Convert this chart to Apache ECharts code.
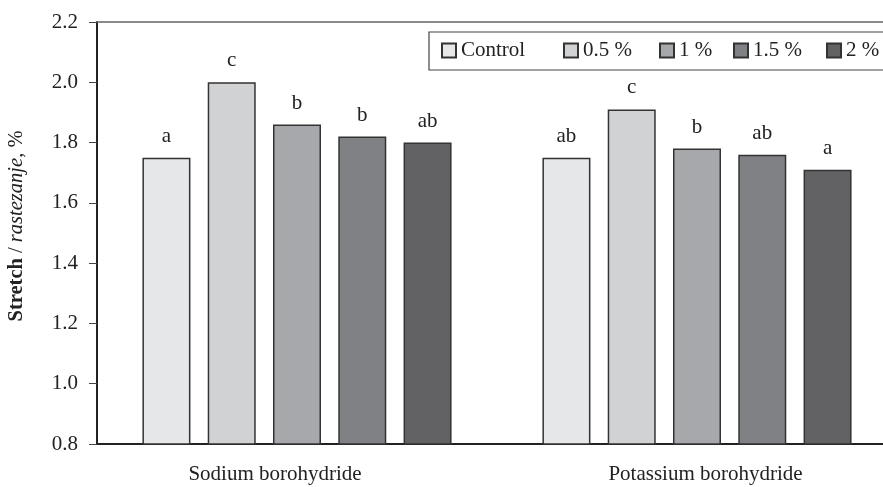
<!DOCTYPE html>
<html><head><meta charset="utf-8">
<script src="https://cdn.jsdelivr.net/npm/echarts@6/dist/echarts.min.js"></script>
<style>html,body{margin:0;padding:0;background:#fff;overflow:hidden}#c{width:897px;height:487px}</style>
</head><body><div id="c"></div>
<script>
const categories = ['Sodium borohydride', 'Potassium borohydride'];
const seriesNames = ['Control', '0.5 %', '1 %', '1.5 %', '2 %'];
const control = [1.75, 1.75];
const p05 = [2.00, 1.91];
const p1 = [1.86, 1.78];
const p15 = [1.82, 1.76];
const p2 = [1.80, 1.71];
const letters_control = ['a', 'ab'];
const letters_p05 = ['c', 'c'];
const letters_p1 = ['b', 'b'];
const letters_p15 = ['b', 'ab'];
const letters_p2 = ['ab', 'a'];
const yTicks = [0.8, 1.0, 1.2, 1.4, 1.6, 1.8, 2.0, 2.2];

const colors = ['#e6e7e8', '#d1d2d4', '#a7a8ab', '#808184', '#626264'];
const values = [control, p05, p1, p15, p2];
const letters = [letters_control, letters_p05, letters_p1, letters_p15, letters_p2];
const legendLefts = [441, 563, 659, 733, 826];
const font = 'Liberation Serif';

const chart = echarts.init(document.getElementById('c'));
chart.setOption({
  animation: false,
  textStyle: {fontFamily: font},
  grid: {left: 97, right: 0, top: 22, bottom: 43},
  legend: seriesNames.map((n, i) => ({
    left: legendLefts[i], top: 40, padding: 0,
    itemWidth: 14, itemHeight: 14, itemGap: 0,
    textStyle: {fontFamily: font, fontSize: 21, color: '#222'},
    data: [{name: n, icon: 'rect'}]
  })),
  xAxis: [{
    type: 'category', data: categories,
    axisLine: {lineStyle: {color: '#222', width: 2}},
    axisTick: {show: false},
    axisLabel: {fontSize: 21, color: '#222', margin: 20, fontFamily: font,
      formatter: (v, i) => '{c' + i + '|' + v + '}',
      rich: {
        c0: {fontSize: 21, fontFamily: font, color: '#222', padding: [0, 44, 0, 0]},
        c1: {fontSize: 21, fontFamily: font, color: '#222', padding: [0, 0, 0, 17]}
      }}
  }, {
    type: 'category', data: categories, position: 'top',
    axisLine: {lineStyle: {color: '#666', width: 1.5}},
    axisTick: {show: false}, axisLabel: {show: false}
  }],
  yAxis: {
    type: 'value', min: yTicks[0], max: yTicks[yTicks.length - 1], interval: 0.2,
    axisLine: {show: true, lineStyle: {color: '#222', width: 2}},
    axisTick: {show: true, length: 8, lineStyle: {color: '#444', width: 1}},
    splitLine: {show: false},
    axisLabel: {fontSize: 21, color: '#222', margin: 19, fontFamily: font,
      formatter: v => v.toFixed(1)}
  },
  graphic: [{
    type: 'rect', shape: {x: 429, y: 32, width: 500, height: 38},
    style: {fill: '#fff', stroke: '#444', lineWidth: 1.2}, z: 1
  }, {
    type: 'text', x: 17, y: 226, rotation: Math.PI / 2,
    style: {
      text: '{b|Stretch} / {i|rastezanje}, %',
      align: 'center', verticalAlign: 'middle',
      font: '20.5px "Liberation Serif"', fill: '#222',
      rich: {
        b: {fontWeight: 'bold', fontSize: 20.5, fontFamily: font, fill: '#222'},
        i: {fontStyle: 'italic', fontSize: 20.5, fontFamily: font, fill: '#222'}
      }
    }
  }],
  series: seriesNames.map((n, i) => ({
    name: n, type: 'bar', data: values[i],
    barWidth: 48, barGap: '36%',
    itemStyle: {color: colors[i], borderColor: '#333', borderWidth: 1.5},
    label: {show: true, position: 'top', distance: 11, fontSize: 21, color: '#222', fontFamily: font,
      formatter: p => letters[i][p.dataIndex]}
  }))
});
</script></body></html>
